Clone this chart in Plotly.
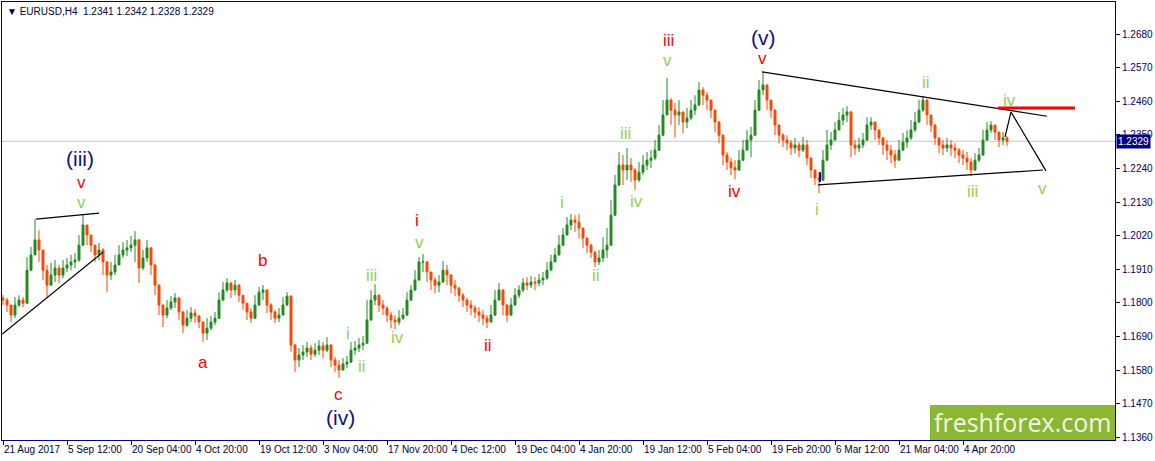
import plotly.graph_objects as go

# EURUSD H4, Aug 2017 - Apr 2018, one candle per ~4 H4 bars
first_open = 1.1815

closes = [
    1.1809, 1.1793, 1.1760, 1.1793, 1.1809, 1.1799, 1.1907, 1.1957, 1.2006, 1.1973,
    1.1907, 1.1858, 1.1891, 1.1914, 1.1891, 1.1914, 1.1924, 1.1934, 1.1940, 1.1989,
    1.2055, 1.2022, 1.1989, 1.1957, 1.1973, 1.1934, 1.1891, 1.1901, 1.1924, 1.1957,
    1.1973, 1.1980, 1.1989, 1.2006, 1.1914, 1.1947, 1.1980, 1.1924, 1.1858, 1.1793,
    1.1760, 1.1783, 1.1803, 1.1816, 1.1770, 1.1727, 1.1750, 1.1767, 1.1757, 1.1737,
    1.1701, 1.1717, 1.1737, 1.1750, 1.1809, 1.1842, 1.1865, 1.1842, 1.1858, 1.1825,
    1.1799, 1.1770, 1.1750, 1.1793, 1.1835, 1.1842, 1.1793, 1.1770, 1.1750, 1.1760,
    1.1793, 1.1822, 1.1662, 1.1613, 1.1629, 1.1639, 1.1652, 1.1632, 1.1645, 1.1659,
    1.1645, 1.1662, 1.1613, 1.1596, 1.1580, 1.1600, 1.1606, 1.1645, 1.1652, 1.1662,
    1.1668, 1.1744, 1.1809, 1.1825, 1.1793, 1.1783, 1.1760, 1.1744, 1.1737, 1.1750,
    1.1760, 1.1809, 1.1842, 1.1875, 1.1934, 1.1934, 1.1901, 1.1875, 1.1858, 1.1868,
    1.1907, 1.1891, 1.1858, 1.1848, 1.1825, 1.1809, 1.1793, 1.1783, 1.1770, 1.1760,
    1.1750, 1.1737, 1.1760, 1.1809, 1.1842, 1.1793, 1.1760, 1.1793, 1.1825, 1.1842,
    1.1865, 1.1858, 1.1868, 1.1865, 1.1875, 1.1881, 1.1907, 1.1934, 1.1957, 1.1989,
    1.2022, 1.2055, 1.2071, 1.2064, 1.2045, 1.2012, 1.1989, 1.1966, 1.1934, 1.1947,
    1.1973, 1.1989, 1.2087, 1.2186, 1.2251, 1.2235, 1.2251, 1.2235, 1.2202, 1.2228,
    1.2251, 1.2267, 1.2274, 1.2300, 1.2349, 1.2415, 1.2464, 1.2431, 1.2415, 1.2425,
    1.2392, 1.2405, 1.2431, 1.2448, 1.2497, 1.2480, 1.2464, 1.2431, 1.2392, 1.2349,
    1.2284, 1.2261, 1.2242, 1.2235, 1.2267, 1.2300, 1.2333, 1.2349, 1.2431, 1.2497,
    1.2513, 1.2464, 1.2431, 1.2382, 1.2349, 1.2333, 1.2323, 1.2307, 1.2317, 1.2300,
    1.2317, 1.2274, 1.2235, 1.2209, 1.2202, 1.2267, 1.2317, 1.2333, 1.2366, 1.2398,
    1.2415, 1.2425, 1.2317, 1.2307, 1.2317, 1.2333, 1.2382, 1.2392, 1.2366, 1.2340,
    1.2317, 1.2300, 1.2284, 1.2267, 1.2300, 1.2326, 1.2340, 1.2366, 1.2392, 1.2431,
    1.2464, 1.2415, 1.2382, 1.2340, 1.2317, 1.2307, 1.2317, 1.2307, 1.2300, 1.2284,
    1.2274, 1.2261, 1.2235, 1.2267, 1.2284, 1.2333, 1.2366, 1.2382, 1.2359, 1.2333,
    1.2340, 1.2329,
]

highs = [
    1.1825, 1.1816, 1.1793, 1.1819, 1.1825, 1.1819, 1.1950, 1.1983, 1.2074, 1.2038,
    1.1973, 1.1924, 1.1931, 1.1940, 1.1924, 1.1940, 1.1947, 1.1957, 1.1963, 1.2022,
    1.2091, 1.2055, 1.2022, 1.1989, 1.1996, 1.1980, 1.1937, 1.1934, 1.1957, 1.1989,
    1.1999, 1.2006, 1.2019, 1.2035, 1.2009, 1.1973, 1.2006, 1.1983, 1.1927, 1.1861,
    1.1793, 1.1809, 1.1822, 1.1832, 1.1819, 1.1773, 1.1776, 1.1786, 1.1780, 1.1760,
    1.1740, 1.1750, 1.1757, 1.1770, 1.1835, 1.1868, 1.1881, 1.1868, 1.1875, 1.1861,
    1.1825, 1.1799, 1.1783, 1.1825, 1.1852, 1.1858, 1.1845, 1.1799, 1.1776, 1.1783,
    1.1819, 1.1835, 1.1825, 1.1665, 1.1652, 1.1662, 1.1672, 1.1662, 1.1668, 1.1678,
    1.1672, 1.1688, 1.1665, 1.1623, 1.1613, 1.1619, 1.1626, 1.1672, 1.1675, 1.1685,
    1.1691, 1.1809, 1.1842, 1.1861, 1.1828, 1.1809, 1.1789, 1.1770, 1.1760, 1.1776,
    1.1783, 1.1835, 1.1858, 1.1907, 1.1950, 1.1960, 1.1937, 1.1901, 1.1884, 1.1891,
    1.1937, 1.1924, 1.1894, 1.1875, 1.1852, 1.1832, 1.1816, 1.1809, 1.1793, 1.1786,
    1.1776, 1.1760, 1.1793, 1.1842, 1.1865, 1.1845, 1.1796, 1.1816, 1.1848, 1.1858,
    1.1881, 1.1884, 1.1888, 1.1884, 1.1894, 1.1901, 1.1934, 1.1957, 1.1980, 1.2022,
    1.2045, 1.2081, 1.2091, 1.2087, 1.2091, 1.2045, 1.2015, 1.1993, 1.1970, 1.1973,
    1.2015, 1.2045, 1.2137, 1.2219, 1.2294, 1.2284, 1.2307, 1.2274, 1.2242, 1.2261,
    1.2284, 1.2294, 1.2300, 1.2333, 1.2382, 1.2464, 1.2536, 1.2470, 1.2454, 1.2464,
    1.2425, 1.2438, 1.2464, 1.2480, 1.2523, 1.2506, 1.2490, 1.2464, 1.2434, 1.2395,
    1.2352, 1.2294, 1.2274, 1.2267, 1.2300, 1.2333, 1.2366, 1.2376, 1.2464, 1.2529,
    1.2556, 1.2516, 1.2464, 1.2434, 1.2385, 1.2356, 1.2349, 1.2333, 1.2340, 1.2326,
    1.2343, 1.2333, 1.2277, 1.2235, 1.2228, 1.2300, 1.2366, 1.2359, 1.2392, 1.2425,
    1.2438, 1.2444, 1.2428, 1.2333, 1.2340, 1.2356, 1.2408, 1.2408, 1.2392, 1.2366,
    1.2343, 1.2333, 1.2317, 1.2300, 1.2333, 1.2356, 1.2366, 1.2398, 1.2425, 1.2464,
    1.2477, 1.2467, 1.2415, 1.2385, 1.2340, 1.2333, 1.2340, 1.2333, 1.2323, 1.2307,
    1.2300, 1.2294, 1.2274, 1.2290, 1.2307, 1.2366, 1.2392, 1.2395, 1.2382, 1.2359,
    1.2359, 1.2346,
]

lows = [
    1.1793, 1.1770, 1.1737, 1.1750, 1.1786, 1.1786, 1.1796, 1.1904, 1.1957, 1.1934,
    1.1875, 1.1819, 1.1858, 1.1868, 1.1865, 1.1881, 1.1901, 1.1907, 1.1914, 1.1934,
    1.1986, 1.1989, 1.1966, 1.1934, 1.1940, 1.1891, 1.1835, 1.1875, 1.1891, 1.1924,
    1.1947, 1.1953, 1.1966, 1.1934, 1.1865, 1.1907, 1.1934, 1.1891, 1.1825, 1.1760,
    1.1721, 1.1750, 1.1776, 1.1783, 1.1744, 1.1701, 1.1721, 1.1737, 1.1734, 1.1717,
    1.1672, 1.1678, 1.1711, 1.1727, 1.1747, 1.1806, 1.1835, 1.1816, 1.1825, 1.1803,
    1.1776, 1.1744, 1.1734, 1.1747, 1.1790, 1.1809, 1.1767, 1.1744, 1.1734, 1.1737,
    1.1760, 1.1790, 1.1639, 1.1573, 1.1590, 1.1613, 1.1623, 1.1613, 1.1623, 1.1629,
    1.1619, 1.1639, 1.1590, 1.1573, 1.1554, 1.1580, 1.1587, 1.1603, 1.1629, 1.1639,
    1.1645, 1.1665, 1.1741, 1.1793, 1.1770, 1.1760, 1.1737, 1.1717, 1.1714, 1.1727,
    1.1744, 1.1757, 1.1806, 1.1839, 1.1872, 1.1901, 1.1868, 1.1842, 1.1832, 1.1835,
    1.1865, 1.1858, 1.1832, 1.1822, 1.1803, 1.1786, 1.1770, 1.1760, 1.1750, 1.1737,
    1.1727, 1.1717, 1.1737, 1.1757, 1.1809, 1.1760, 1.1737, 1.1757, 1.1790, 1.1816,
    1.1835, 1.1842, 1.1848, 1.1842, 1.1855, 1.1858, 1.1875, 1.1907, 1.1934, 1.1954,
    1.1986, 1.2022, 1.2038, 1.2032, 1.2012, 1.1980, 1.1963, 1.1947, 1.1917, 1.1924,
    1.1934, 1.1947, 1.1986, 1.2084, 1.2183, 1.2186, 1.2202, 1.2196, 1.2169, 1.2196,
    1.2219, 1.2235, 1.2242, 1.2267, 1.2297, 1.2346, 1.2415, 1.2382, 1.2340, 1.2382,
    1.2356, 1.2372, 1.2398, 1.2415, 1.2445, 1.2448, 1.2431, 1.2405, 1.2359, 1.2323,
    1.2251, 1.2235, 1.2219, 1.2205, 1.2232, 1.2264, 1.2300, 1.2277, 1.2346, 1.2428,
    1.2480, 1.2431, 1.2405, 1.2349, 1.2323, 1.2310, 1.2300, 1.2284, 1.2290, 1.2277,
    1.2294, 1.2251, 1.2209, 1.2186, 1.2159, 1.2199, 1.2264, 1.2300, 1.2333, 1.2366,
    1.2382, 1.2392, 1.2277, 1.2284, 1.2294, 1.2307, 1.2330, 1.2366, 1.2333, 1.2317,
    1.2284, 1.2267, 1.2258, 1.2242, 1.2267, 1.2300, 1.2307, 1.2333, 1.2359, 1.2389,
    1.2425, 1.2382, 1.2359, 1.2317, 1.2290, 1.2284, 1.2294, 1.2281, 1.2274, 1.2258,
    1.2251, 1.2235, 1.2215, 1.2232, 1.2261, 1.2281, 1.2330, 1.2356, 1.2333, 1.2310,
    1.2317, 1.2313,
]

# each candle opens where the previous one closed
opens = [first_open] + closes[:-1]
bars = list(range(len(closes)))

date_ticks = [0, 16, 32, 48, 64, 80, 96, 112, 128, 144, 160, 176, 192, 208, 224, 240]
date_labels = ["21 Aug 2017", "5 Sep 12:00", "20 Sep 04:00", "4 Oct 20:00",
               "19 Oct 12:00", "3 Nov 04:00", "17 Nov 20:00", "4 Dec 12:00",
               "19 Dec 04:00", "4 Jan 20:00", "19 Jan 12:00", "5 Feb 04:00",
               "19 Feb 20:00", "6 Mar 12:00", "21 Mar 04:00", "4 Apr 20:00"]
price_ticks = [1.1360, 1.1470, 1.1580, 1.1690, 1.1800, 1.1910, 1.2020,
               1.2130, 1.2240, 1.2350, 1.2460, 1.2570, 1.2680]
last_price = 1.2329
title_text = "▼ EURUSD,H4  1.2341 1.2342 1.2328 1.2329"

# hand drawn analysis: (bar0, price0, bar1, price1)
trend_lines = [
    (8.25, 1.2074, 24, 1.2094),
    (-0.25, 1.1697, 25, 1.1966),
    (189.75, 1.2556, 261, 1.2411),
    (203.75, 1.2186, 260, 1.2235),
]
forecast_bars = [250.5, 252, 260.75]
forecast_prices = [1.2343, 1.2425, 1.2232]
resistance = (248.75, 268, 1.2438)

NAVY = "#0f0f85"
GREEN = "#92d050"
RED = "#ff0000"

# wave marks: (text, bar, price, colour, size)
wave_marks = [
    ("(iii)", 19.25, 1.2274, NAVY, 21), ("v", 19.5, 1.2195, RED, 17), ("v", 19.5, 1.2130, GREEN, 17),
    ("a", 50, 1.1606, RED, 17), ("b", 64.75, 1.1940, RED, 17), ("c", 83.75, 1.1501, RED, 17),
    ("(iv)", 84.25, 1.1426, NAVY, 21),
    ("i", 86.25, 1.1701, GREEN, 17), ("ii", 89.75, 1.1593, GREEN, 17),
    ("iii", 92, 1.1888, GREEN, 17), ("iv", 98.5, 1.1685, GREEN, 17),
    ("i", 103.5, 1.2071, RED, 17), ("v", 104, 1.1999, GREEN, 17),
    ("ii", 121.25, 1.1662, RED, 17),
    ("i", 139.75, 1.2130, GREEN, 17), ("ii", 148.25, 1.1891, GREEN, 17),
    ("iii", 155.5, 1.2356, GREEN, 17), ("iv", 158.25, 1.2133, GREEN, 17),
    ("iii", 166.25, 1.2660, RED, 17), ("v", 166, 1.2592, GREEN, 17),
    ("iv", 182.75, 1.2163, RED, 17),
    ("(v)", 190, 1.2670, NAVY, 21), ("v", 189.75, 1.2601, RED, 17),
    ("i", 203.5, 1.2107, GREEN, 17), ("ii", 230.75, 1.2520, GREEN, 17),
    ("iii", 242.25, 1.2166, GREEN, 17), ("iv", 251.5, 1.2461, GREEN, 17),
    ("v", 259.75, 1.2176, GREEN, 17),
]

fig = go.Figure()

fig.add_trace(go.Candlestick(
    x=bars, open=opens, high=highs, low=lows, close=closes,
    increasing=dict(line=dict(color="#228b22", width=1), fillcolor="#228b22"),
    decreasing=dict(line=dict(color="#ff4500", width=1), fillcolor="#ff4500"),
    whiskerwidth=0, hoverinfo="skip", showlegend=False))

fig.add_trace(go.Scatter(x=forecast_bars, y=forecast_prices, mode="lines",
                         line=dict(color="black", width=1.2), hoverinfo="skip",
                         showlegend=False))

shapes = [dict(type="line", xref="paper", x0=0, x1=1, yref="y", y0=last_price, y1=last_price,
               line=dict(color="#c8c8c8", width=1), layer="below")]
for b0, p0, b1, p1 in trend_lines:
    shapes.append(dict(type="line", x0=b0, y0=p0, x1=b1, y1=p1,
                       line=dict(color="black", width=1.2)))
shapes.append(dict(type="line", x0=resistance[0], x1=resistance[1], y0=resistance[2],
                   y1=resistance[2], line=dict(color="#ff0000", width=3)))
shapes.append(dict(type="line", x0=204.25, x1=204.25, y0=1.2196, y1=1.2228,
                   line=dict(color="#0000ff", width=2)))
# logo plate
shapes.append(dict(type="rect", xref="paper", yref="paper", x0=0.8338, x1=1, y0=0, y1=0.08,
                   fillcolor="#8ab833", line=dict(width=0), layer="above"))

annotations = []
for txt, b, p, col, size in wave_marks:
    annotations.append(dict(x=b, y=p, text=txt, showarrow=False,
                            xanchor="center", yanchor="middle",
                            font=dict(family="Liberation Sans", size=size, color=col)))

annotations.append(dict(xref="paper", yref="paper", x=0.917, y=0.04, text="freshforex.com",
                        xanchor="center", yanchor="middle", showarrow=False,
                        font=dict(family="Open Sans", size=25, color="#f4f6e8")))
annotations.append(dict(xref="paper", yref="paper", x=0.003, y=1, xanchor="left", yanchor="top",
                        yshift=-2, text=title_text, showarrow=False,
                        font=dict(family="Liberation Sans", size=10, color="#000040")))
annotations.append(dict(xref="paper", x=1, xanchor="left", xshift=1, y=last_price, yref="y",
                        yanchor="middle", text=f"{last_price:.4f}", showarrow=False,
                        bgcolor="#000080", borderpad=1,
                        font=dict(family="Liberation Sans", size=10, color="white")))

fig.update_layout(
    width=1155, height=461,
    margin=dict(l=2, r=40, t=2, b=21, autoexpand=False),
    plot_bgcolor="white", paper_bgcolor="white",
    shapes=shapes, annotations=annotations,
    showlegend=False,
    xaxis=dict(range=[-0.25, 278], rangeslider=dict(visible=False), showgrid=False,
               zeroline=False, tickmode="array", tickvals=date_ticks, ticktext=date_labels,
               tickangle=0, automargin=False,
               ticks="outside", ticklen=4, tickcolor="#000080",
               ticklabelposition="outside right",
               showline=True, mirror=True, linecolor="#000080", linewidth=1,
               tickfont=dict(family="Liberation Sans", size=10, color="#000033")),
    yaxis=dict(range=[1.1351, 1.2785], side="right", showgrid=False, zeroline=False,
               automargin=False,
               tickmode="array", tickvals=price_ticks,
               ticktext=[f"{v:.4f}" for v in price_ticks],
               ticks="outside", ticklen=4, tickcolor="#000080",
               showline=True, mirror=True, linecolor="#000080", linewidth=1,
               tickfont=dict(family="Liberation Sans", size=10, color="#000066")),
)

fig.write_html("out.html", config={"displayModeBar": False},
               post_script="document.body.style.margin='0';")
